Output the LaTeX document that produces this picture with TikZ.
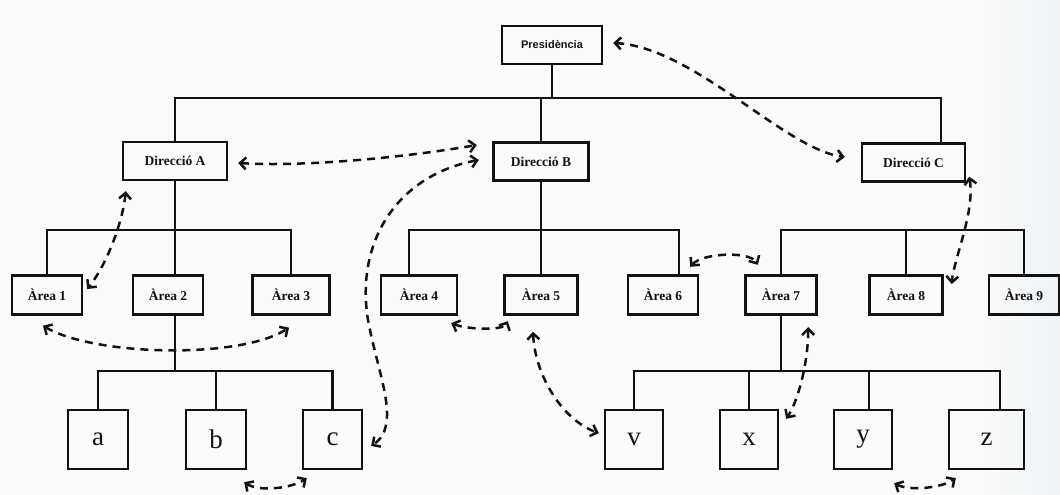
\documentclass[tikz,border=0pt]{standalone}
\usepackage{fontspec}
\setmainfont{Liberation Serif}
\newfontfamily\presfont{Liberation Sans}
\usetikzlibrary{arrows.meta}

\definecolor{paper}{RGB}{251,251,249}
\definecolor{paperblue}{RGB}{237,242,247}
\definecolor{ink}{RGB}{18,18,18}

\tikzset{
  box/.style={draw=ink, line width=2.4pt, inner sep=0pt, text=ink,
              font=\bfseries\fontsize{13.5}{15}\selectfont},
  dirbox/.style={box, minimum height=38pt},
  areabox/.style={box, minimum height=39pt},
  leafbox/.style={box, minimum width=58pt, minimum height=59pt,
                  font=\fontsize{27}{30}\selectfont},
  tree/.style={draw=ink, line width=2.4pt, line join=miter},
  tip/.style={},
  link/.style={draw=ink, line width=2.5pt, dash pattern=on 8pt off 6pt,
               {Straight Barb[length=6pt,width=12pt,line width=2.5pt]}-{Straight Barb[length=6pt,width=12pt,line width=2.5pt]}}
}

\begin{document}
\begin{tikzpicture}[x=1pt,y=-1pt]
  % paper
  \fill[paper] (0,0) rectangle (1060,495);
  \shade[left color=paper, right color=paperblue] (985,0) rectangle (1060,495);
  \useasboundingbox (0,0) rectangle (1060,495);

  % levels of the hierarchy
  \node[dirbox, minimum width=100pt, font=\presfont\bfseries\fontsize{11}{14}\selectfont] (pres) at (552,45) {Presidència};

  \node[dirbox, minimum width=104pt] (dirA) at (175,161) {Direcció A};
  \node[dirbox, minimum width=95pt]  (dirB) at (541,161.5) {Direcció B};
  \node[dirbox, minimum width=103pt] (dirC) at (913.5,162.5) {Direcció C};

  \node[areabox, minimum width=70pt] (a1) at (47,295)    {Àrea 1};
  \node[areabox, minimum width=70pt] (a2) at (168,295)   {Àrea 2};
  \node[areabox, minimum width=77pt] (a3) at (291,295)   {Àrea 3};
  \node[areabox, minimum width=76pt] (a4) at (419,295)   {Àrea 4};
  \node[areabox, minimum width=73pt] (a5) at (541,295)   {Àrea 5};
  \node[areabox, minimum width=70pt] (a6) at (663,295)   {Àrea 6};
  \node[areabox, minimum width=71pt] (a7) at (781,295)   {Àrea 7};
  \node[areabox, minimum width=73pt] (a8) at (906,295)   {Àrea 8};
  \node[areabox, minimum width=70pt] (a9) at (1024,295)  {Àrea 9};

  \node[leafbox, minimum width=60pt] (ba) at (98,439.5)  {a};
  \node[leafbox, minimum width=60pt] (bb) at (216,439.5) {b};
  \node[leafbox, minimum width=59pt] (bc) at (332.5,439.5) {c};
  \node[leafbox] (bv) at (634,439.5) {v};
  \node[leafbox] (bx) at (749,439.5) {x};
  \node[leafbox] (by) at (863,439.5) {y};
  \node[leafbox, minimum width=75pt] (bz) at (986.5,439.5) {z};

  % heights of the horizontal bars
  \coordinate (yTop) at (0,98);
  \coordinate (yMid) at (0,230);
  \coordinate (yLow) at (0,371);

  % stems that do not leave a box at its centre
  \coordinate (sC) at ([shift={(27.5,0)}]dirC.north);
  \coordinate (s2) at ([shift={(7,0)}]a2.south);
  \coordinate (s4) at ([shift={(-10,0)}]a4.north);
  \coordinate (s6) at ([shift={(16,0)}]a6.north);
  \coordinate (sy) at ([shift={(6,0)}]by.north);
  \coordinate (sz) at ([shift={(13.5,0)}]bz.north);

  % top level
  \draw[tree] (pres.south) -- (pres.south |- yTop);
  \draw[tree] (dirA.north) -- (dirA.north |- yTop) -- (sC |- yTop) -- (sC);
  \draw[tree] (dirB.north) -- (dirB.north |- yTop);

  % areas of Direcció A
  \draw[tree] (a1.north) -- (a1.north |- yMid) -- (a3.north |- yMid) -- (a3.north);
  \draw[tree] (dirA.south) -- (dirA.south |- a2.north);

  % areas of Direcció B
  \draw[tree] (s4) -- (s4 |- yMid) -- (s6 |- yMid) -- (s6);
  \draw[tree] (dirB.south) -- (dirB.south |- a5.north);

  % areas 7, 8 and 9
  \draw[tree] (a7.north) -- (a7.north |- yMid) -- (a9.north |- yMid) -- (a9.north);
  \draw[tree] (a8.north) -- (a8.north |- yMid);

  % units under Àrea 2
  \draw[tree] (s2) -- (s2 |- yLow);
  \draw[tree] (ba.north) -- (ba.north |- yLow) -- (bc.north |- yLow) -- (bc.north);
  \draw[tree] (bb.north) -- (bb.north |- yLow);

  % units under Àrea 7
  \draw[tree] (a7.south) -- (a7.south |- yLow);
  \draw[tree] (bv.north) -- (bv.north |- yLow) -- (sz |- yLow) -- (sz);
  \draw[tree] (bx.north) -- (bx.north |- yLow);
  \draw[tree] (sy) -- (sy |- yLow);

  % informal links
  \draw[link] ([shift={(10,2)}]dirA.east)
      .. controls +(70,4) and +(-70,12) .. ([shift={(-15.5,-16.5)}]dirB.west);
  \draw[link] ([shift={(-13.5,-1.5)}]dirB.west)
      .. controls +(-80,15) and +(-13,-80) .. (368,320)
      .. controls (378,375) and (402,425) .. ([shift={(8,6.5)}]bc.east);
  \draw[link] ([shift={(4,10)}]dirA.south west)
      .. controls +(-3,30) and +(20,-25) .. ([shift={(4,-6)}]a1.east);
  \draw[link] ([shift={(-4,10)}]a1.south)
      .. controls +(50,30) and +(-50,32) .. ([shift={(-2,12)}]a3.south);
  \draw[link] ([shift={(-3,12)}]bb.south east)
      .. controls +(15,10) and +(-15,10) .. ([shift={(5,8)}]bc.south west);
  \draw[link] ([shift={(-7,7.5)}]a4.south east)
      .. controls +(15,6) and +(-5,10) .. ([shift={(4.5,5.5)}]a5.south west);
  \draw[link] ([shift={(-8,16)}]a5.south)
      .. controls +(2,45) and +(-35,-12) .. ([shift={(-5,-6.5)}]bv.west);
  \draw[link] ([shift={(10,-2)}]pres.east)
      .. controls +(80,4) and +(-60,-8) .. ([shift={(-16,-5.5)}]dirC.west);
  \draw[link] ([shift={(3,-6)}]dirC.south east)
      .. controls +(6,35) and +(2,-25) .. ([shift={(8,-11)}]a8.east);
  \draw[link] ([shift={(-9,-7.5)}]a6.north east)
      .. controls +(12,-14) and +(-8,-14) .. ([shift={(13.5,-9.5)}]a7.north west);
  \draw[link] ([shift={(-9.5,11.5)}]a7.south east)
      .. controls +(0,35) and +(12,-18) .. ([shift={(7,10)}]bx.north east);
  \draw[link] ([shift={(1,13)}]by.south east)
      .. controls +(15,8) and +(-15,10) .. ([shift={(8,8)}]bz.south west);
\end{tikzpicture}
\end{document}
